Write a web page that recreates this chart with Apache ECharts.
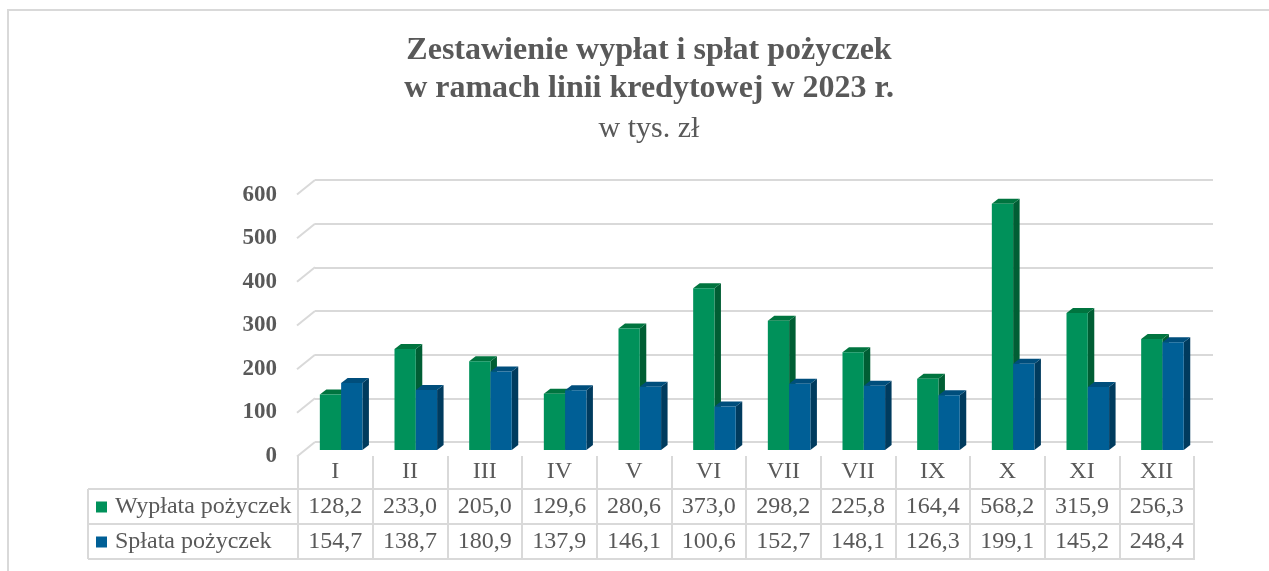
<!DOCTYPE html>
<html>
<head>
<meta charset="utf-8">
<script src="https://cdn.jsdelivr.net/npm/echarts@6/dist/echarts.min.js"></script>
<style>
  html, body { margin: 0; padding: 0; background: #fff; }
  #chart { width: 1269px; height: 571px; }
</style>
</head>
<body>
<div id="chart"></div>
<script>
// dane
const months = ['I', 'II', 'III', 'IV', 'V', 'VI', 'VII', 'VII', 'IX', 'X', 'XI', 'XII']
const wyplata = [128.2, 233.0, 205.0, 129.6, 280.6, 373.0, 298.2, 225.8, 164.4, 568.2, 315.9, 256.3]
const splata = [154.7, 138.7, 180.9, 137.9, 146.1, 100.6, 152.7, 148.1, 126.3, 199.1, 145.2, 248.4]
const yTicks = [0, 100, 200, 300, 400, 500, 600]

const TXT = '#595959'
const LINE = '#d9d9d9'
const SERIF = 'Liberation Serif'

const fmt = v => v.toFixed(1).replace('.', ',')

// slupek 3D: przod, bok, gora
const bar3d = (offset, front, top, side) => (params, api) => {
    const base = api.coord([api.value(0), 0])
    const peak = api.coord([api.value(0), api.value(1)])
    const w = api.size([1, 0])[0] * 0.285
    const dx = 6.5, dy = 5
    const x = base[0] + offset
    const y0 = base[1], y1 = peak[1]
    return {
        type: 'group',
        children: [
            { type: 'polygon', shape: { points: [[x + w, y1], [x + w + dx, y1 - dy], [x + w + dx, y0 - dy], [x + w, y0]] }, style: { fill: side } },
            { type: 'polygon', shape: { points: [[x, y1], [x + dx, y1 - dy], [x + w + dx, y1 - dy], [x + w, y1]] }, style: { fill: top } },
            { type: 'rect', shape: { x: x, y: y1, width: w, height: y0 - y1 }, style: { fill: front } }
        ]
    }
}

const tableRow = (dyRow) => (params, api) => {
    const p = api.coord([api.value(0), 0])
    return {
        type: 'text',
        x: p[0], y: p[1] + dyRow,
        style: {
            text: fmt(api.value(1)),
            fill: TXT, font: '24px "Liberation Serif"',
            textAlign: 'center', textVerticalAlign: 'middle'
        }
    }
}

const myChart = echarts.init(document.getElementById('chart'))

const option = {
    animation: false,
    title: {
        text: 'Zestawienie wypłat i spłat pożyczek\nw ramach linii kredytowej w 2023 r.',
        subtext: 'w tys. zł',
        left: 644, top: 27, textAlign: 'center', itemGap: 6,
        textStyle: { fontFamily: SERIF, fontSize: 32, fontWeight: 'bold', color: TXT, lineHeight: 38 },
        subtextStyle: { fontFamily: SERIF, fontSize: 30, color: TXT, lineHeight: 30 }
    },
    legend: {
        data: ['Wypłata pożyczek', 'Spłata pożyczek'],
        orient: 'vertical', left: 96, top: 495, padding: 0,
        itemWidth: 11, itemHeight: 11, itemGap: 11, icon: 'rect',
        selectedMode: false,
        textStyle: { fontFamily: SERIF, fontSize: 24, color: TXT, lineHeight: 24, padding: [0, 0, 0, 3] }
    },
    grid: [
        { left: 298, right: 75, top: 190, bottom: 121 },  // slupki
        { left: 315, right: 56, top: 180, bottom: 129 },  // tylna sciana
        { left: 298, right: 75, top: 195, bottom: 115 }   // przod + tabela
    ],
    xAxis: [
        { gridIndex: 0, type: 'category', data: months, show: false },
        { gridIndex: 1, type: 'value', min: 0, max: 1, show: false },
        {
            gridIndex: 2, type: 'category', data: months,
            axisLine: { show: false },
            axisTick: { show: true, interval: 0, length: 104, lineStyle: { color: LINE, width: 2 } },
            axisLabel: { interval: 0, margin: 4, fontFamily: SERIF, fontSize: 24, color: TXT, lineHeight: 24 }
        }
    ],
    yAxis: [
        { gridIndex: 0, type: 'value', min: 0, max: 600, interval: 100, show: false },
        {
            gridIndex: 1, type: 'value', min: 0, max: 600, interval: 100,
            axisLine: { show: false }, axisTick: { show: false }, axisLabel: { show: false },
            splitLine: { lineStyle: { color: LINE, width: 2 } }
        },
        {
            gridIndex: 2, type: 'value', min: 0, max: 600, interval: 100,
            axisLine: { show: false }, axisTick: { show: false }, splitLine: { show: false },
            axisLabel: { margin: 21, fontFamily: SERIF, fontSize: 23, fontWeight: 'bold', color: TXT }
        }
    ],
    series: [
        {
            type: 'custom', name: 'skos', xAxisIndex: 1, yAxisIndex: 1, silent: true,
            data: yTicks.map(v => [0, v]),
            renderItem: (params, api) => {
                const p = api.coord([0, api.value(1)])
                return { type: 'line', shape: { x1: p[0], y1: p[1], x2: p[0] - 18, y2: p[1] + 14.5 }, style: { stroke: LINE, lineWidth: 2 } }
            }
        },
        {
            type: 'custom', name: 'Wypłata pożyczek', xAxisIndex: 0, yAxisIndex: 0,
            itemStyle: { color: '#00915A' },
            data: wyplata.map((v, i) => [i, v]),
            renderItem: bar3d(-15.5, '#00915A', '#00743F', '#005E34')
        },
        {
            type: 'custom', name: 'Spłata pożyczek', xAxisIndex: 0, yAxisIndex: 0,
            itemStyle: { color: '#005F96' },
            data: splata.map((v, i) => [i, v]),
            renderItem: bar3d(5.8, '#005F96', '#004E7C', '#003B5E')
        },
        {
            type: 'custom', name: 'tab1', xAxisIndex: 2, yAxisIndex: 2, silent: true,
            data: wyplata.map((v, i) => [i, v]),
            renderItem: tableRow(50.5)
        },
        {
            type: 'custom', name: 'tab2', xAxisIndex: 2, yAxisIndex: 2, silent: true,
            data: splata.map((v, i) => [i, v]),
            renderItem: tableRow(85.5)
        }
    ],
    graphic: [
        { type: 'rect', shape: { x: 8, y: 10, width: 1400, height: 700 }, style: { fill: 'none', stroke: LINE, lineWidth: 2 }, silent: true },
        { type: 'line', shape: { x1: 88, y1: 489, x2: 1194, y2: 489 }, style: { stroke: LINE, lineWidth: 2 } },
        { type: 'line', shape: { x1: 88, y1: 524, x2: 1194, y2: 524 }, style: { stroke: LINE, lineWidth: 2 } },
        { type: 'line', shape: { x1: 88, y1: 559, x2: 1194, y2: 559 }, style: { stroke: LINE, lineWidth: 2 } },
        { type: 'line', shape: { x1: 88, y1: 489, x2: 88, y2: 559 }, style: { stroke: LINE, lineWidth: 2 } }
    ]
}

myChart.setOption(option)
</script>
</body>
</html>
